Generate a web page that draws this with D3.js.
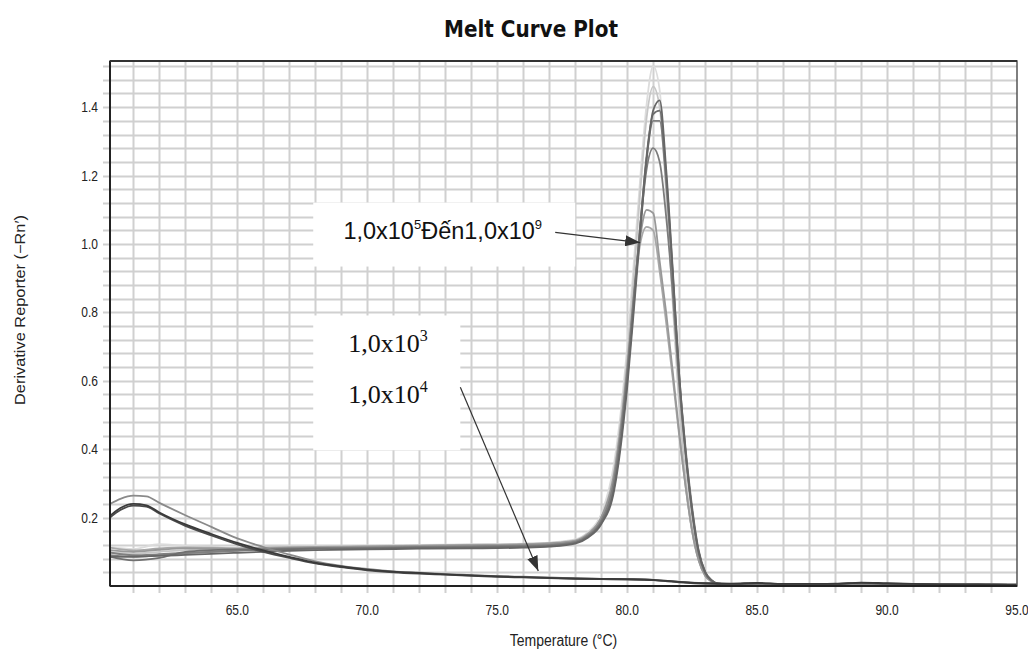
<!DOCTYPE html>
<html>
<head>
<meta charset="utf-8">
<script src="https://cdn.jsdelivr.net/npm/d3@7"></script>
<style>
  body { margin: 0; background: #fff; }
  text { font-family: "Liberation Sans", Arial, sans-serif; }
</style>
</head>
<body>
<div id="chart"></div>
<script>
// Melt curve plot: derivative reporter vs temperature

// temperature samples for the high-copy curves (1,0x10^5 .. 1,0x10^9)
const tempsHigh = [60.1, 61, 62, 63, 64, 65, 66, 67, 68, 70, 72, 74, 76, 77, 78,
    78.5, 79, 79.5, 80, 80.25, 80.5, 80.75, 81, 81.25, 81.5, 81.75, 82, 82.25, 82.5, 82.75, 83, 83.25, 83.5,
    84, 85, 86, 87, 88, 89, 90, 91, 92, 93, 94, 95];

const high1 = [0.114, 0.108, 0.122, 0.117, 0.115, 0.112, 0.113, 0.115, 0.116, 0.118, 0.12, 0.122, 0.124, 0.127, 0.136,
    0.158, 0.21, 0.36, 0.70, 0.94, 1.19, 1.41, 1.52, 1.45, 1.17, 0.83, 0.52, 0.30, 0.16, 0.075, 0.032, 0.014, 0.007,
    0.005, 0.005, 0.006, 0.005, 0.005, 0.005, 0.005, 0.005, 0.004, 0.004, 0.004, 0.003];
const high2 = [0.098, 0.095, 0.1, 0.105, 0.108, 0.11, 0.112, 0.114, 0.115, 0.117, 0.119, 0.121, 0.123, 0.126, 0.134,
    0.155, 0.20, 0.34, 0.67, 0.90, 1.15, 1.37, 1.46, 1.40, 1.15, 0.84, 0.54, 0.32, 0.17, 0.08, 0.034, 0.015, 0.007,
    0.005, 0.005, 0.005, 0.005, 0.005, 0.005, 0.005, 0.004, 0.004, 0.004, 0.004, 0.003];
const high3 = [0.085, 0.086, 0.088, 0.091, 0.094, 0.097, 0.1, 0.103, 0.105, 0.107, 0.109, 0.11, 0.112, 0.115, 0.124,
    0.142, 0.18, 0.28, 0.58, 0.80, 1.03, 1.25, 1.39, 1.42, 1.22, 0.93, 0.62, 0.39, 0.22, 0.10, 0.04, 0.016, 0.007,
    0.005, 0.007, 0.005, 0.005, 0.005, 0.006, 0.006, 0.005, 0.004, 0.004, 0.004, 0.003];
const high4 = [0.086, 0.075, 0.082, 0.1, 0.105, 0.107, 0.106, 0.108, 0.109, 0.11, 0.112, 0.113, 0.115, 0.117, 0.126,
    0.145, 0.185, 0.29, 0.60, 0.82, 1.05, 1.26, 1.38, 1.39, 1.20, 0.92, 0.62, 0.40, 0.23, 0.105, 0.042, 0.017, 0.007,
    0.005, 0.006, 0.005, 0.005, 0.005, 0.005, 0.006, 0.005, 0.004, 0.004, 0.004, 0.003];
const high5 = [0.098, 0.09, 0.093, 0.097, 0.1, 0.104, 0.108, 0.11, 0.111, 0.112, 0.114, 0.116, 0.118, 0.12, 0.129,
    0.148, 0.19, 0.30, 0.61, 0.83, 1.05, 1.25, 1.36, 1.36, 1.18, 0.91, 0.61, 0.39, 0.22, 0.10, 0.04, 0.016, 0.007,
    0.005, 0.005, 0.005, 0.005, 0.005, 0.005, 0.005, 0.005, 0.004, 0.004, 0.004, 0.003];
const high6 = [0.09, 0.085, 0.09, 0.096, 0.1, 0.103, 0.106, 0.108, 0.11, 0.111, 0.113, 0.114, 0.116, 0.119, 0.128,
    0.148, 0.19, 0.31, 0.62, 0.84, 1.05, 1.22, 1.28, 1.24, 1.08, 0.86, 0.59, 0.38, 0.21, 0.095, 0.038, 0.015, 0.007,
    0.005, 0.005, 0.005, 0.005, 0.005, 0.005, 0.005, 0.005, 0.004, 0.004, 0.004, 0.003];
const high7 = [0.105, 0.1, 0.106, 0.11, 0.109, 0.108, 0.11, 0.112, 0.113, 0.115, 0.117, 0.119, 0.121, 0.124, 0.132,
    0.152, 0.20, 0.33, 0.64, 0.85, 1.02, 1.10, 1.09, 0.95, 0.80, 0.63, 0.45, 0.29, 0.16, 0.075, 0.03, 0.013, 0.006,
    0.005, 0.005, 0.005, 0.005, 0.005, 0.005, 0.005, 0.005, 0.004, 0.004, 0.004, 0.003];
const high8 = [0.112, 0.104, 0.11, 0.113, 0.112, 0.11, 0.112, 0.113, 0.114, 0.116, 0.118, 0.12, 0.122, 0.125, 0.133,
    0.153, 0.20, 0.32, 0.63, 0.84, 1.00, 1.05, 1.04, 0.92, 0.77, 0.61, 0.44, 0.29, 0.16, 0.075, 0.03, 0.013, 0.006,
    0.005, 0.005, 0.005, 0.005, 0.005, 0.005, 0.005, 0.005, 0.004, 0.004, 0.004, 0.003];

// temperature samples for the low-copy curves (1,0x10^3 and 1,0x10^4)
const tempsLow = [60.1, 60.5, 61, 61.5, 62, 63, 64, 65, 66, 67, 68, 69, 70, 71, 72, 73, 74, 75, 76, 77, 78, 79, 80, 81,
    82, 83, 84, 85, 86, 87, 88, 89, 90, 91, 92, 93, 94, 95];

const low1 = [0.205, 0.228, 0.240, 0.236, 0.215, 0.18, 0.152, 0.126, 0.104, 0.085, 0.068, 0.057, 0.048, 0.042, 0.038,
    0.034, 0.031, 0.028, 0.026, 0.024, 0.022, 0.021, 0.02, 0.018, 0.012, 0.008, 0.007, 0.009, 0.006, 0.006, 0.006,
    0.01, 0.008, 0.006, 0.005, 0.005, 0.004, 0.004];
const low2 = [0.2, 0.222, 0.235, 0.232, 0.212, 0.176, 0.148, 0.122, 0.1, 0.082, 0.066, 0.055, 0.046, 0.04, 0.036,
    0.033, 0.03, 0.027, 0.025, 0.023, 0.021, 0.02, 0.019, 0.017, 0.011, 0.007, 0.006, 0.008, 0.006, 0.006, 0.007,
    0.009, 0.007, 0.006, 0.005, 0.004, 0.004, 0.004];
const low3 = [0.24, 0.255, 0.264, 0.262, 0.243, 0.207, 0.173, 0.139, 0.114, 0.092, 0.072, 0.059, 0.05, 0.043, 0.039,
    0.035, 0.032, 0.029, 0.027, 0.025, 0.023, 0.021, 0.02, 0.018, 0.012, 0.008, 0.006, 0.006, 0.006, 0.005, 0.005,
    0.006, 0.006, 0.005, 0.005, 0.004, 0.004, 0.004];

const xTickLabels = [65, 70, 75, 80, 85, 90, 95];
const yTickLabels = [0.2, 0.4, 0.6, 0.8, 1.0, 1.2, 1.4];

// series drawn light to dark, low-copy curves last so they sit on top
const series = [
    { temps: tempsHigh, values: high1, color: "#dcdcdc" },
    { temps: tempsHigh, values: high2, color: "#c6c6c6" },
    { temps: tempsHigh, values: high8, color: "#a8a8a8" },
    { temps: tempsHigh, values: high7, color: "#989898" },
    { temps: tempsHigh, values: high6, color: "#7c7c7c" },
    { temps: tempsHigh, values: high5, color: "#808080" },
    { temps: tempsHigh, values: high4, color: "#707070" },
    { temps: tempsHigh, values: high3, color: "#666666" },
    { temps: tempsLow, values: low3, color: "#8a8a8a" },
    { temps: tempsLow, values: low2, color: "#4a4a4a" },
    { temps: tempsLow, values: low1, color: "#3a3a3a" },
];

const width = 1028, height = 657;
const margin = { top: 61, right: 11, bottom: 71, left: 110 };
const stretch = 1.17; // the source picture is a bit taller than wide

const svg = d3.select("#chart")
    .append("svg")
    .attr("width", width)
    .attr("height", height);

const x = d3.scaleLinear()
    .domain([60.1, 95])
    .range([margin.left, width - margin.right]);

const y = d3.scaleLinear()
    .domain([0, 1.535])
    .range([height - margin.bottom, margin.top]);

const plotBottom = height - margin.bottom;

svg.append("defs").append("clipPath")
    .attr("id", "plot-clip")
    .append("rect")
    .attr("x", margin.left)
    .attr("y", margin.top)
    .attr("width", width - margin.left - margin.right)
    .attr("height", plotBottom - margin.top);

// grid: one line per degree, one per 0.04
const xGrid = d3.range(61, 95);
const yGrid = d3.range(1, 39).map((i) => +(i * 0.04).toFixed(2));

const grid = svg.append("g");
grid.selectAll(".vgrid")
    .data(xGrid)
    .join("line")
    .attr("x1", (d) => Math.round(x(d)) + 0.5)
    .attr("x2", (d) => Math.round(x(d)) + 0.5)
    .attr("y1", margin.top)
    .attr("y2", plotBottom + 7)
    .attr("stroke", "#d0d0d0")
    .attr("stroke-width", 2);

grid.selectAll(".hgrid")
    .data(yGrid)
    .join("line")
    .attr("x1", margin.left - 7)
    .attr("x2", width - margin.right)
    .attr("y1", (d) => Math.round(y(d)) + 0.5)
    .attr("y2", (d) => Math.round(y(d)) + 0.5)
    .attr("stroke", "#d0d0d0")
    .attr("stroke-width", 2);

// annotation boxes hide the grid behind the labels
const boxes = [
    { t0: 67.92, t1: 78.0, v0: 1.121, v1: 0.934 },
    { t0: 67.92, t1: 73.58, v0: 0.791, v1: 0.397 },
];
svg.append("g")
    .selectAll("rect")
    .data(boxes)
    .join("rect")
    .attr("x", (d) => x(d.t0))
    .attr("y", (d) => y(d.v0))
    .attr("width", (d) => x(d.t1) - x(d.t0))
    .attr("height", (d) => y(d.v1) - y(d.v0))
    .attr("fill", "#fff");

// curves
const line = d3.line()
    .x((d) => x(d[0]))
    .y((d) => y(d[1]))
    .curve(d3.curveMonotoneX);

svg.append("g")
    .attr("clip-path", "url(#plot-clip)")
    .selectAll("path")
    .data(series)
    .join("path")
    .attr("d", (s) => line(s.temps.map((t, i) => [t, s.values[i]])))
    .attr("fill", "none")
    .attr("stroke", (s) => s.color)
    .attr("stroke-width", 1.8)
    .attr("stroke-linejoin", "round");

// frame
svg.append("rect")
    .attr("x", margin.left)
    .attr("y", margin.top)
    .attr("width", width - margin.left - margin.right)
    .attr("height", plotBottom - margin.top)
    .attr("fill", "none")
    .attr("stroke", "#555")
    .attr("stroke-width", 1.5);
svg.append("line")
    .attr("x1", margin.left).attr("x2", margin.left)
    .attr("y1", margin.top).attr("y2", plotBottom)
    .attr("stroke", "#222").attr("stroke-width", 2);
svg.append("line")
    .attr("x1", margin.left).attr("x2", width - margin.right)
    .attr("y1", margin.top).attr("y2", margin.top)
    .attr("stroke", "#333").attr("stroke-width", 2);
svg.append("line")
    .attr("x1", margin.left).attr("x2", width - margin.right)
    .attr("y1", plotBottom).attr("y2", plotBottom)
    .attr("stroke", "#222").attr("stroke-width", 2);

// tick labels
svg.append("g")
    .selectAll("text")
    .data(xTickLabels)
    .join("text")
    .attr("transform", (d) => `translate(${x(d)},${plotBottom + 29}) scale(1,${stretch})`)
    .attr("text-anchor", "middle")
    .attr("font-size", "12px")
    .attr("fill", "#222")
    .text((d) => d.toFixed(1));

svg.append("g")
    .selectAll("text")
    .data(yTickLabels)
    .join("text")
    .attr("transform", (d) => `translate(${margin.left - 12},${y(d) + 5}) scale(1,${stretch})`)
    .attr("text-anchor", "end")
    .attr("font-size", "12px")
    .attr("fill", "#222")
    .text((d) => d.toFixed(1));

// titles
svg.append("text")
    .attr("transform", `translate(531,37) scale(1,${stretch})`)
    .attr("text-anchor", "middle")
    .style("font-family", "'DejaVu Sans', Verdana, sans-serif")
    .attr("font-weight", "bold")
    .attr("font-size", "20px")
    .attr("fill", "#111")
    .text("Melt Curve Plot");

svg.append("text")
    .attr("transform", `translate(${(margin.left + width - margin.right) / 2},646) scale(1,${stretch})`)
    .attr("text-anchor", "middle")
    .attr("font-size", "14px")
    .attr("fill", "#222")
    .text("Temperature (°C)");

svg.append("text")
    .attr("transform", `translate(25,310) rotate(-90) scale(${stretch},1)`)
    .attr("text-anchor", "middle")
    .attr("font-size", "14px")
    .attr("fill", "#222")
    .text("Derivative Reporter (\u2212Rn\u2032)");

// arrows
const defs = svg.select("defs");
defs.append("marker")
    .attr("id", "arrow")
    .attr("markerUnits", "userSpaceOnUse")
    .attr("markerWidth", 15)
    .attr("markerHeight", 11)
    .attr("refX", 15)
    .attr("refY", 5.5)
    .attr("orient", "auto")
    .append("path")
    .attr("d", "M0,0 L15,5.5 L0,11 Z")
    .attr("fill", "#333");

const arrows = [
    { t0: 77.23, v0: 1.034, t1: 80.5, v1: 1.004 },
    { t0: 73.58, v0: 0.581, t1: 76.58, v1: 0.044 },
];
svg.append("g")
    .selectAll("line")
    .data(arrows)
    .join("line")
    .attr("x1", (d) => x(d.t0))
    .attr("y1", (d) => y(d.v0))
    .attr("x2", (d) => x(d.t1))
    .attr("y2", (d) => y(d.v1))
    .attr("stroke", "#333")
    .attr("stroke-width", 1.2)
    .attr("marker-end", "url(#arrow)");

// annotation labels
const lab1 = svg.append("text")
    .attr("x", x(69.08))
    .attr("y", y(1.016))
    .attr("font-size", "23.5px")
    .attr("fill", "#111");
lab1.append("tspan").text("1,0x10");
lab1.append("tspan").attr("dy", -10).attr("font-size", "13px").text("5");
lab1.append("tspan").attr("dy", 10).text("Đến1,0x10");
lab1.append("tspan").attr("dy", -10).attr("font-size", "13px").text("9");

[["3", 0.683], ["4", 0.534]].forEach(([p, v]) => {
    const t = svg.append("text")
        .attr("x", x(69.27))
        .attr("y", y(v))
        .style("font-family", "'Liberation Serif', 'Times New Roman', serif")
        .attr("font-size", "26px")
        .attr("fill", "#111");
    t.append("tspan").text("1,0x10");
    t.append("tspan").attr("dy", -11).attr("font-size", "16px").text(p);
});
</script>
</body>
</html>
